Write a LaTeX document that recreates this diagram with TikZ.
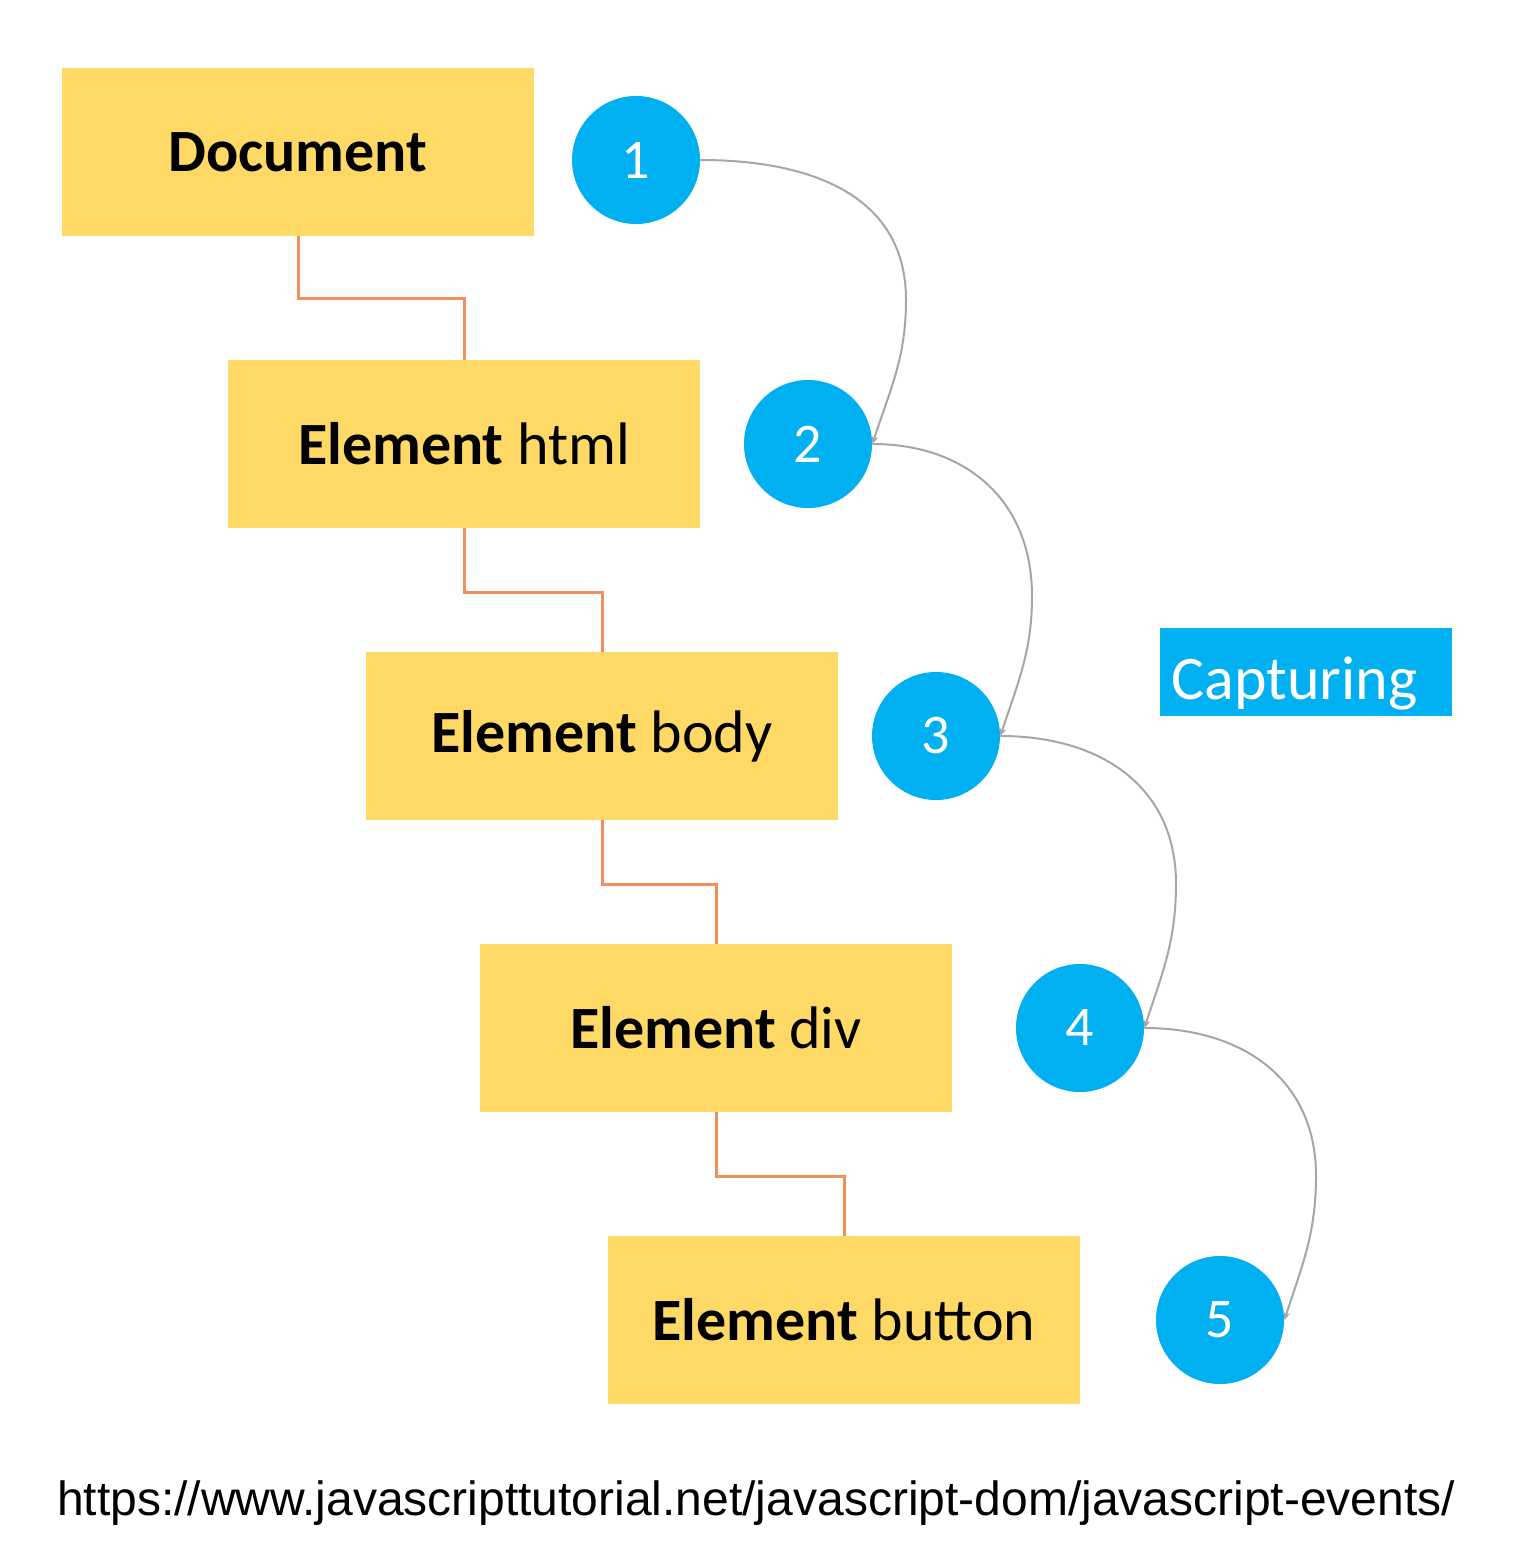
\documentclass[tikz,border=0pt]{standalone}
\usepackage{fontspec}
\setmainfont{Carlito}
\newfontfamily\urlfont{Liberation Sans}
\usetikzlibrary{arrows.meta}
\definecolor{boxyellow}{HTML}{FFD966}
\definecolor{cyanblue}{HTML}{00B0F0}
\definecolor{connorange}{HTML}{F0905A}
\definecolor{curvegray}{HTML}{A6A6A6}
\tikzset{
  elbox/.style={rectangle, fill=boxyellow, minimum width=236pt, minimum height=84pt, inner sep=0pt, font=\fontsize{30}{36}\selectfont},
  numcirc/.style={circle, fill=cyanblue, minimum size=64pt, inner sep=0pt, text=white, font=\fontsize{28}{34}\selectfont},
  tree/.style={connorange, line width=1.5pt},
  flow/.style={curvegray, line width=1pt, -{Stealth[length=4pt,width=3.5pt]}},
}
\begin{document}
\begin{tikzpicture}[x=0.5pt,y=-0.5pt]
\useasboundingbox (0,0) rectangle (1512,1568);
\node[elbox] (doc) at (298,152) {\textbf{Document}};
\node[elbox] (html) at (464,444) {\textbf{Element} html};
\node[elbox] (body) at (602,736) {\textbf{Element} body};
\node[elbox] (div) at (716,1028) {\textbf{Element} div};
\node[elbox] (button) at (844,1320) {\textbf{Element} button};

\node[numcirc] (c1) at (636,160) {1};
\node[numcirc] (c2) at (808,444) {2};
\node[numcirc] (c3) at (936,736) {3};
\node[numcirc] (c4) at (1080,1028) {4};
\node[numcirc] (c5) at (1220,1320) {5};

\node[rectangle, fill=cyanblue, minimum width=146pt, minimum height=44pt, inner sep=0pt] (cap) at (1306,672) {};
\node[text=white, inner sep=0pt, anchor=base west, font=\fontsize{31}{37}\selectfont] (captext) at (1171,699) {Capturing};

\node[font=\urlfont\fontsize{24}{29}\selectfont, inner sep=0pt] (url) at (756,1503) {https://www.javascripttutorial.net/javascript-dom/javascript-events/};

\draw[tree] (doc.south) -- ++(0,62) -| (html.north);
\draw[tree] (html.south) -- ++(0,64) -| (body.north);
\draw[tree] (body.south) -- ++(0,64) -| (div.north);
\draw[tree] (div.south) -- ++(0,64) -| (button.north);

\coordinate (p1) at (906,300);
\coordinate (p2) at (1032,596);
\coordinate (p3) at (1176,884);
\coordinate (p4) at (1316,1176);

\draw[flow] (c1.east) to[out=0,in=90,looseness=1.1] (p1) to[out=-90,in=72] (c2.east);
\draw[flow] (c2.east) to[out=0,in=90,looseness=1.1] (p2) to[out=-90,in=72] (c3.east);
\draw[flow] (c3.east) to[out=0,in=90,looseness=1.1] (p3) to[out=-90,in=72] (c4.east);
\draw[flow] (c4.east) to[out=0,in=90,looseness=1.1] (p4) to[out=-90,in=72] (c5.east);
\end{tikzpicture}
\end{document}
